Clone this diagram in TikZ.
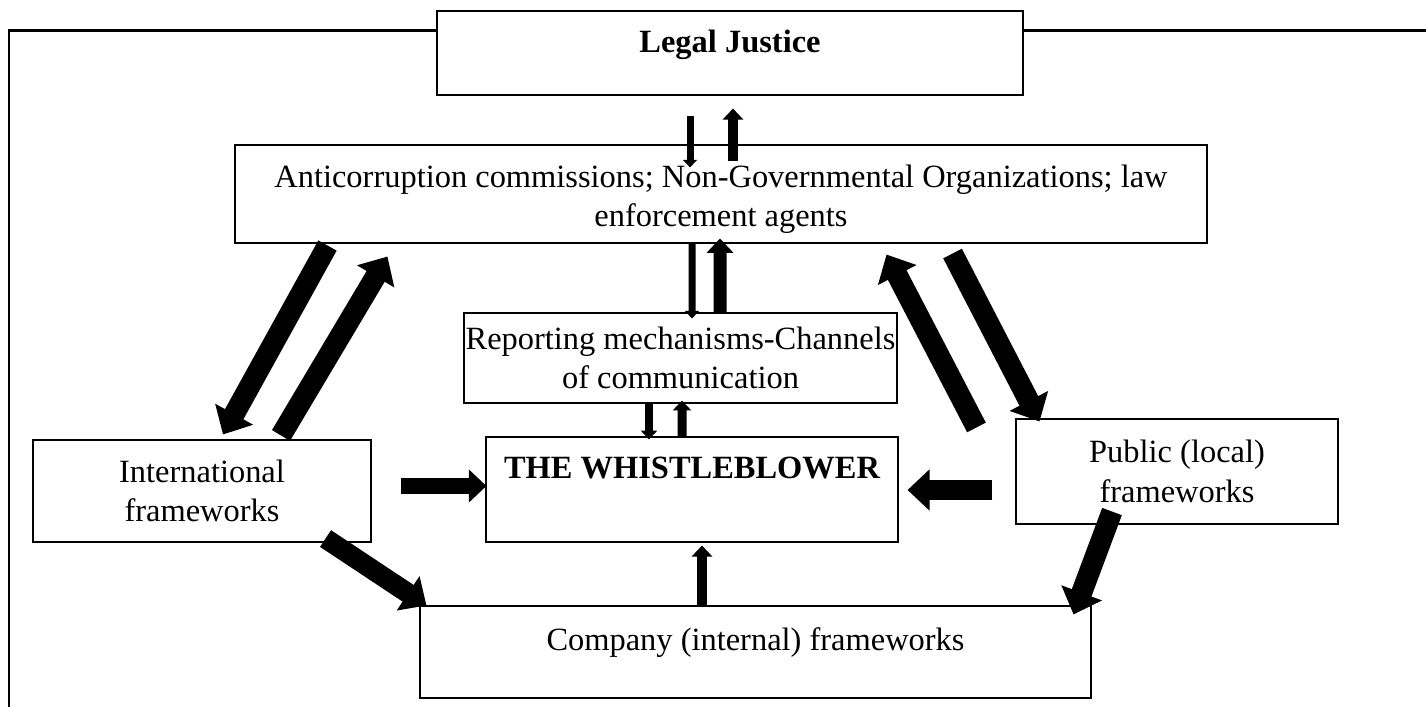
\documentclass[tikz,border=0pt,12pt]{standalone}
\usepackage{fontspec}
\setmainfont{Liberation Serif}
\usetikzlibrary{arrows.meta,calc}
\newdimen\px \px=0.13mm

\tikzset{
  box/.style={draw, fill=white, line width=0.4pt, align=center, inner sep=0pt},
  flow/.style={line width=#1, -{Triangle[length=0pt 1.1, width=0pt 2.0]}},
}

\begin{document}
\begin{tikzpicture}[x=0.13mm, y=-0.13mm]
  \useasboundingbox (0,0) rectangle (1426,707);

  % page frame
  \draw[line width=0.8pt] (9,707) -- (9,30.5) -- (1426,30.5);

  % boxes
  \node[box, minimum width=586\px, minimum height=84\px] (legal) at (730,53) {};
  \node[font=\bfseries] (legaltext) at (730,45) {Legal Justice};
  \node[box, minimum width=972\px, minimum height=98\px] (anti) at (721,194) {};
  \node[align=center] (antitext) at (721,199) {Anticorruption commissions; Non-Governmental Organizations; law\\enforcement agents};
  \node[box, minimum width=433\px, minimum height=90\px] (report) at (680.5,358) {Reporting mechanisms-Channels\\of communication};
  \node[box, minimum width=412\px, minimum height=105\px] (wb) at (692,489.5) {};
  \node[font=\bfseries] (wbtext) at (692,468) {THE WHISTLEBLOWER};
  \node[box, minimum width=338\px, minimum height=102\px] (intl) at (202,491) {International\\frameworks};
  \node[box, minimum width=322\px, minimum height=105\px] (public) at (1177,471.5) {Public (local)\\frameworks};
  \node[box, minimum width=671\px, minimum height=92\px] (company) at (755.5,652) {};
  \node (comptext) at (755.5,643) {Company (internal) frameworks};

  % vertical arrows through the middle
  \draw[flow=7\px] ($(legal.south)+(-40,20)$) -- ($(anti.north)+(-31,23)$);
  \draw[flow=10\px] ($(anti.north)+(12,17)$) -- ($(legal.south)+(3,13)$);
  \draw[flow=7\px] ($(anti.south)+(-29,-1)$) -- ($(report.north)+(11.5,6)$);
  \draw[flow=13\px] ($(report.north)+(39.5,0)$) -- ($(anti.south)+(-1,-5)$);
  \draw[flow=8\px] ($(report.south)+(-31.5,0)$) -- ($(wb.north)+(-43,3)$);
  \draw[flow=9\px] ($(wb.north)+(-10,0)$) -- ($(report.south)+(1.5,-3)$);
  \draw[flow=10\px] ($(company.north)+(-53.5,2)$) -- ($(wb.south)+(10,3)$);

  % side arrows into the whistleblower
  \draw[flow=16\px] ($(intl.east)+(29,-5)$) -- ($(wb.west)+(1,-3.5)$);
  \draw[flow=20\px] ($(public.west)+(-23,18.5)$) -- ($(wb.east)+(9,0.5)$);

  % diagonal arrows
  \draw[flow=21\px] ($(anti.south west)+(93,2)$) -- ($(intl.north)+(21,-5)$);
  \draw[flow=21\px] ($(intl.north)+(79,-4)$) -- ($(anti.south west)+(153,13)$);
  \draw[flow=21\px] ($(anti.south east)+(-255,10)$) -- ($(public.north west)+(24,3)$);
  \draw[flow=21\px] ($(public.north west)+(-39,9)$) -- ($(anti.south east)+(-321,11)$);
  \draw[flow=20\px] ($(intl.south east)+(-46,-4)$) -- ($(company.north west)+(7,0)$);
  \draw[flow=21\px] ($(public.south)+(-65,-13)$) -- ($(company.north east)+(-18,9)$);
\end{tikzpicture}
\end{document}
